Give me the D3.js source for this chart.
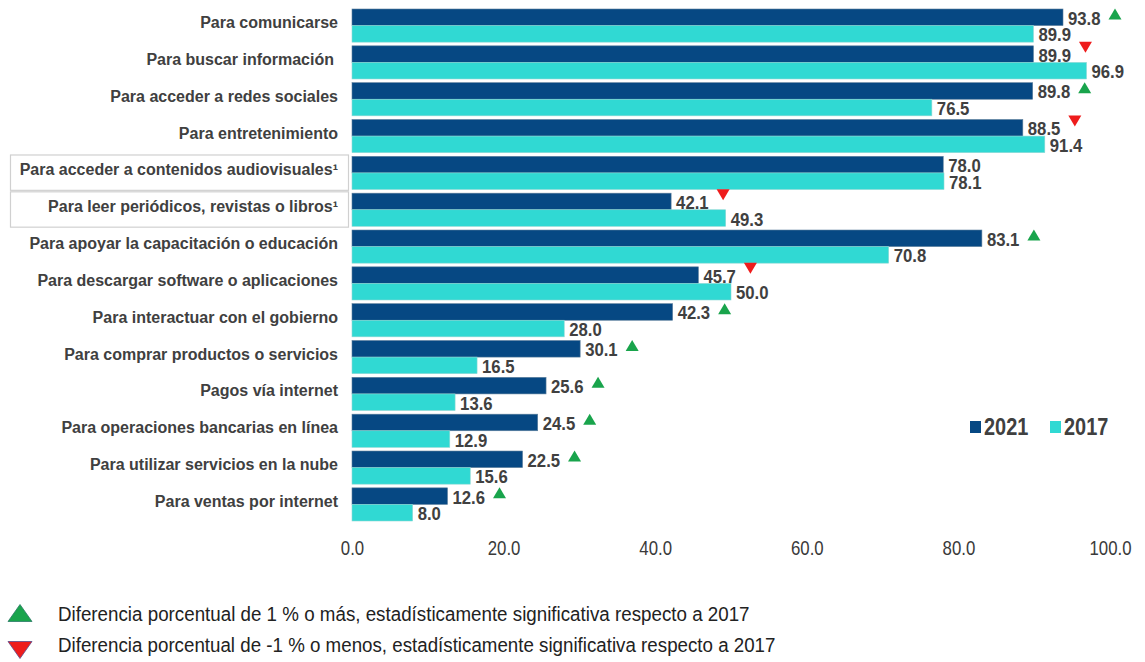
<!DOCTYPE html>
<html>
<head>
<meta charset="utf-8">
<script src="https://cdn.jsdelivr.net/npm/d3@7"></script>
<style>
  html, body { margin: 0; padding: 0; background: #fff; }
  svg { display: block; }
</style>
</head>
<body>
<svg id="chart" width="1145" height="662"></svg>
<script>
// Usos de internet: porcentaje de usuarios, 2021 frente a 2017
const categories = [
  "Para comunicarse",
  "Para buscar información",
  "Para acceder a redes sociales",
  "Para entretenimiento",
  "Para acceder a contenidos audiovisuales¹",
  "Para leer periódicos, revistas o libros¹",
  "Para apoyar la capacitación o educación",
  "Para descargar software o aplicaciones",
  "Para interactuar con el gobierno",
  "Para comprar productos o servicios",
  "Pagos vía internet",
  "Para operaciones bancarias en línea",
  "Para utilizar servicios en la nube",
  "Para ventas por internet"
];
const values2021 = [93.8, 89.9, 89.8, 88.5, 78.0, 42.1, 83.1, 45.7, 42.3, 30.1, 25.6, 24.5, 22.5, 12.6];
const values2017 = [89.9, 96.9, 76.5, 91.4, 78.1, 49.3, 70.8, 50.0, 28.0, 16.5, 13.6, 12.9, 15.6, 8.0];
// 1 = aumento significativo, -1 = disminución significativa, 0 = sin marca
const significance = [1, -1, 1, -1, 0, -1, 1, -1, 1, 1, 1, 1, 1, 1];
const boxedCategories = [
  "Para acceder a contenidos audiovisuales¹",
  "Para leer periódicos, revistas o libros¹"
];
const seriesNames = ["2021", "2017"];
const xTicks = [0, 20, 40, 60, 80, 100];
const footnotes = [
  "Diferencia porcentual de 1 % o más, estadísticamente significativa respecto a 2017",
  "Diferencia porcentual de -1 % o menos, estadísticamente significativa respecto a 2017"
];

const colors = { "2021": "#064883", "2017": "#30d9d3" };
const upColor = "#19a44c", downColor = "#ee1c1c";
const textColor = "#404040";
const FONT = "Liberation Sans, Arial, sans-serif";

const svg = d3.select("#chart");

const x = d3.scaleLinear().domain([0, 100]).range([352, 1110]);
const y = d3.scaleBand().domain(categories).range([9, 521]).paddingInner(0.1).paddingOuter(0);
const ySub = d3.scaleBand().domain(seriesNames).range([0, y.bandwidth()]);

const rows = categories.map((c, i) => ({
  cat: c, v2021: values2021[i], v2017: values2017[i], sig: significance[i]
}));

// Texto condensado (equivalente a una fuente estrecha)
function narrowText(g, px, py, str, opts) {
  return g.append("text")
    .attr("transform", `translate(${px},${py}) scale(${opts.sx},1)`)
    .attr("text-anchor", opts.anchor || "start")
    .attr("font-family", FONT)
    .attr("font-weight", opts.weight || "normal")
    .attr("font-size", opts.size)
    .attr("fill", opts.fill || textColor)
    .text(str);
}

// Recuadros de las categorías con nota
svg.append("g").selectAll("rect")
  .data(boxedCategories)
  .join("rect")
  .attr("x", 10.5)
  .attr("y", d => y(d) - y.step() * y.paddingInner() / 2 + 0.5)
  .attr("width", 338)
  .attr("height", y.step() - 1.5)
  .attr("fill", "#fff")
  .attr("stroke", "#d0d0d0")
  .attr("stroke-width", 1.2);

// Etiquetas de categoría
svg.append("g").selectAll("text")
  .data(rows)
  .join("text")
  .attr("x", d => d.cat === "Para buscar información" ? 334 : 338)
  .attr("y", d => y(d.cat) + 19)
  .attr("text-anchor", "end")
  .attr("font-family", FONT)
  .attr("font-weight", "bold")
  .attr("font-size", 16)
  .attr("fill", textColor)
  .text(d => d.cat);

// Barras y valores
const barG = svg.append("g");
rows.forEach(r => {
  seriesNames.forEach(s => {
    const v = s === "2021" ? r.v2021 : r.v2017;
    const top = y(r.cat) + ySub(s);
    barG.append("rect")
      .attr("x", x(0))
      .attr("y", top)
      .attr("width", x(v) - x(0))
      .attr("height", ySub.bandwidth())
      .attr("fill", colors[s])
      .attr("stroke", s === "2021" ? "#5d7f9c" : "#8ed8d4")
      .attr("stroke-width", 0.6);
    narrowText(barG, x(v) + 5, top + ySub.bandwidth() / 2 + 7.5, v.toFixed(1),
      { sx: 0.88, size: 19, weight: "bold" });
  });
  // Marcador de significancia
  if (r.sig !== 0) {
    const cx = x(r.v2021) + 5 + 47;
    const cy = y(r.cat) + (r.sig > 0 ? 5 : 1.5);
    const w = 6.5, h = 11;
    const pts = r.sig > 0
      ? [[cx - w, cy + h / 2], [cx + w, cy + h / 2], [cx, cy - h / 2]]
      : [[cx - w, cy - h / 2], [cx + w, cy - h / 2], [cx, cy + h / 2]];
    barG.append("path")
      .attr("d", d3.line()(pts) + "Z")
      .attr("fill", r.sig > 0 ? upColor : downColor);
  }
});

// Eje X
const xAxis = svg.append("g")
  .attr("transform", "translate(0,555)")
  .call(d3.axisBottom(x).tickValues(xTicks).tickFormat(d3.format(".1f")).tickSize(0).tickPadding(0));
xAxis.select(".domain").remove();
xAxis.selectAll(".tick text")
  .attr("y", 0)
  .attr("dy", 0)
  .attr("transform", "scale(0.8,1)")
  .attr("font-family", FONT)
  .attr("font-size", 21)
  .attr("fill", "#3a3a3a");

// Leyenda de series
const legend = svg.append("g");
const legendX = [970, 1050];
seriesNames.forEach((s, i) => {
  legend.append("rect")
    .attr("x", legendX[i]).attr("y", 421)
    .attr("width", 11).attr("height", 12)
    .attr("fill", colors[s]);
  narrowText(legend, legendX[i] + 14, 435, s, { sx: 0.83, size: 24, weight: "bold" });
});

// Notas de significancia
const notes = svg.append("g");
const noteWidths = [692, 718];
footnotes.forEach((t, i) => {
  const cy = i === 0 ? 613 : 650;
  const cx = 20, w = 12, h = 17;
  const pts = i === 0
    ? [[cx - w, cy + h / 2], [cx + w, cy + h / 2], [cx, cy - h / 2]]
    : [[cx - w, cy - h / 2], [cx + w, cy - h / 2], [cx, cy + h / 2]];
  notes.append("path")
    .attr("d", d3.line()(pts) + "Z")
    .attr("fill", i === 0 ? upColor : downColor)
    .attr("stroke", i === 0 ? "#2a7a66" : "#5a4a8a")
    .attr("stroke-width", 0.8);
  const txt = notes.append("text")
    .attr("font-family", FONT)
    .attr("font-size", 21)
    .attr("fill", "#222")
    .text(t);
  const sx = noteWidths[i] / txt.node().getComputedTextLength();
  txt.attr("transform", `translate(58,${i === 0 ? 621 : 652}) scale(${sx},1)`);
});
</script>
</body>
</html>
